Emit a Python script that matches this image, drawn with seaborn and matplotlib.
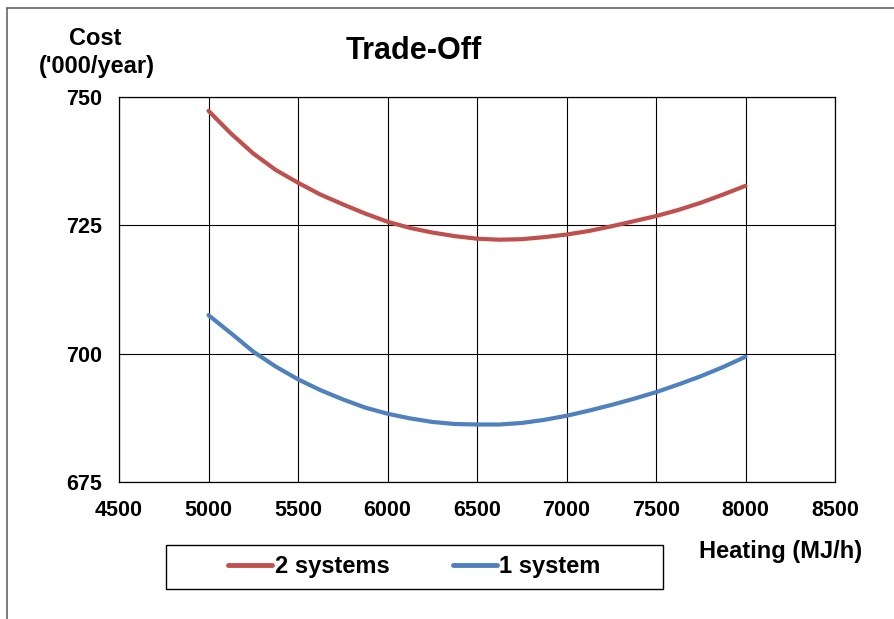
import matplotlib
matplotlib.use("Agg")
import matplotlib.pyplot as plt
from matplotlib.patches import Rectangle
from matplotlib.lines import Line2D
import seaborn as sns
import pandas as pd

heating = [5000, 5125, 5250, 5375, 5500, 5625, 5750, 5875, 6000, 6125, 6250, 6375, 6500,
           6625, 6750, 6875, 7000, 7125, 7250, 7375, 7500, 7625, 7750, 7875, 8000]
two_systems = [747.3, 742.9, 739.0, 735.8, 733.3, 731.0, 729.1, 727.3, 725.7, 724.5, 723.6, 722.9, 722.4,
               722.2, 722.3, 722.7, 723.2, 723.9, 724.8, 725.8, 726.8, 728.0, 729.4, 731.0, 732.7]
one_system = [707.5, 704.0, 700.4, 697.5, 695.0, 692.9, 691.1, 689.5, 688.3, 687.4, 686.7, 686.3, 686.2,
              686.2, 686.5, 687.1, 687.9, 688.9, 690.0, 691.2, 692.5, 694.0, 695.6, 697.4, 699.4]
series_names = ["2 systems", "1 system"]
colors = ["#C0504D", "#4F81BD"]
x_ticks = [4500, 5000, 5500, 6000, 6500, 7000, 7500, 8000, 8500]
y_ticks = [675, 700, 725, 750]

df = pd.concat([
    pd.DataFrame({"Heating": heating, "Cost": two_systems, "Series": series_names[0]}),
    pd.DataFrame({"Heating": heating, "Cost": one_system, "Series": series_names[1]}),
])

sns.set_style("white")
plt.rcParams["font.family"] = ["Liberation Sans", "DejaVu Sans"]
plt.rcParams["font.weight"] = "bold"
plt.rcParams["text.color"] = "black"
plt.rcParams["xtick.color"] = "black"
plt.rcParams["ytick.color"] = "black"

W, H = 894, 619
fig = plt.figure(figsize=(W / 100, H / 100), dpi=100)
ax = fig.add_axes([119 / W, 1 - 482 / H, (835 - 119) / W, (482 - 97) / H])

sns.lineplot(data=df, x="Heating", y="Cost", hue="Series", palette=dict(zip(series_names, colors)),
             linewidth=3, ax=ax, legend=False, sort=False,
             solid_joinstyle="round", solid_capstyle="round")

ax.set_xlim(4500, 8500)
ax.set_ylim(675, 750)
ax.set_xticks(x_ticks)
ax.set_yticks(y_ticks)
ax.set_xticklabels([str(t) for t in x_ticks], fontsize=15.5, fontweight="bold", color="black")
ax.set_yticklabels([str(t) for t in y_ticks], fontsize=15.5, fontweight="bold", color="black")
ax.tick_params(axis="both", direction="out", length=4.3, width=0.8, color="black")
ax.tick_params(axis="x", pad=9)
ax.tick_params(axis="y", pad=8)
ax.grid(True, color="black", linewidth=0.8)
ax.set_axisbelow(True)
for s in ax.spines.values():
    s.set_color("black")
    s.set_linewidth(0.9)
ax.set_xlabel("")
ax.set_ylabel("")

# texts
fig.text(414 / W, 1 - 59 / H, "Trade-Off", ha="center", va="baseline", fontsize=22, fontweight="bold", color="black")
fig.text(95 / W, 1 - 45 / H, "Cost", ha="center", va="baseline", fontsize=17, fontweight="bold", color="black")
fig.text(97 / W, 1 - 73 / H, "('000/year)", ha="center", va="baseline", fontsize=17, fontweight="bold", color="black")
fig.text(862 / W, 1 - 558 / H, "Heating (MJ/h)", ha="right", va="baseline", fontsize=17, fontweight="bold", color="black")

# legend
handles = [Line2D([0], [0], color=c, linewidth=3.5, solid_capstyle="round") for c in colors]
leg = fig.legend(handles, series_names, loc="center", bbox_to_anchor=(414.5 / W, 1 - 567 / H),
                 ncol=2, frameon=False, prop={"size": 17, "weight": "bold"},
                 handlelength=1.86, handletextpad=0.1, columnspacing=2.7)
for t in leg.get_texts():
    t.set_color("black")
fig.patches.append(Rectangle((166 / W, 1 - 589 / H), (663 - 166) / W, (589 - 545) / H,
                             transform=fig.transFigure, fill=False, edgecolor="black", linewidth=1))

# outer border lines
fig.lines.append(Line2D([6.5 / W, 6.5 / W], [0, 1 - 8 / H], transform=fig.transFigure, color="#666666", linewidth=1.2))
fig.lines.append(Line2D([6.5 / W, 1], [1 - 8 / H, 1 - 8 / H], transform=fig.transFigure, color="#666666", linewidth=1.2))

fig.savefig("out.png", dpi=100)
